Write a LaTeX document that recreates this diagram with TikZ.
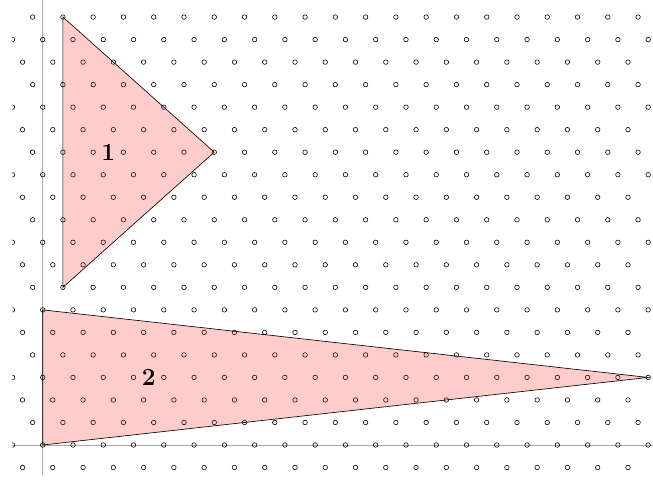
\documentclass[tikz,border=0pt]{standalone}
\usepackage{tikz}
\usetikzlibrary{calc}

\definecolor{achsgrau}{HTML}{AAAAAA}
\definecolor{flaeche}{HTML}{FF0000}

\begin{document}
\begin{tikzpicture}[
    x=1cm, y=1cm,
    achse/.style={achsgrau, line width=0.8pt},
    gitterpkt/.style={black, line width=0.55pt},
    dreieck/.style={draw=black, line width=0.6pt, fill=flaeche, fill opacity=0.2},
    nummer/.style={font=\fontsize{23}{27}\selectfont\bfseries, inner sep=0pt}
  ]
  \def\hh{0.744}
  \useasboundingbox (-1.411,-1.123) rectangle (20.16,14.70);
  \clip (-1,-1) rectangle (20.16,14.70);

  % Achsen
  \coordinate (yu) at (0,-1);
  \coordinate (yo) at (0,14.70);
  \coordinate (xl) at (-1,0);
  \coordinate (xr) at (20.16,0);
  \draw[achse] (yu) -- (yo);
  \draw[achse] (xl) -- (xr);

  % Gitter
  \foreach \j in {-1,...,19}{
    \foreach \k in {-2,...,28}{
      \pgfmathsetmacro\px{\k-\j/3}
      \draw[gitterpkt] (\px,\j*\hh) circle (0.075);
    }
  }

  % Dreieck 1
  \coordinate (a1) at (2/3,19*\hh);
  \coordinate (b1) at (17/3,13*\hh);
  \coordinate (c1) at (2/3,7*\hh);
  \draw[dreieck] (a1) -- (b1) -- (c1) -- cycle;

  % Dreieck 2
  \coordinate (a2) at (0,0);
  \coordinate (b2) at (0,6*\hh);
  \coordinate (c2) at (20,3*\hh);
  \draw[dreieck] (a2) -- (b2) -- (c2) -- cycle;

  \node[nummer] (n1) at (13/6,13*\hh) {1};
  \node[nummer] (n2) at (3.5,3*\hh) {2};
\end{tikzpicture}
\end{document}
